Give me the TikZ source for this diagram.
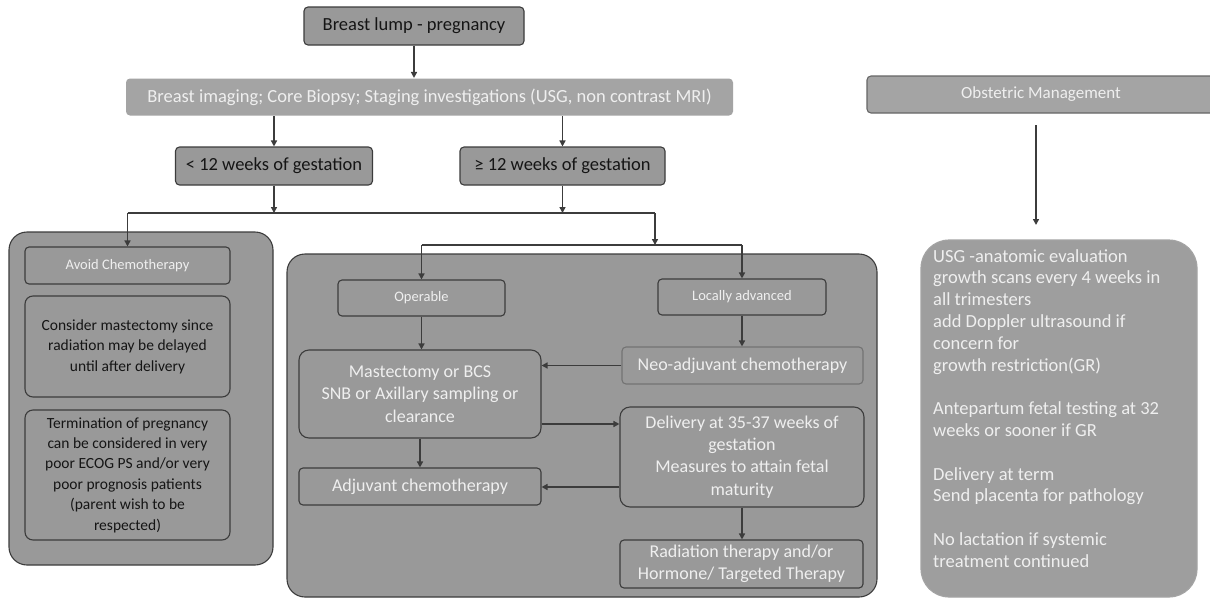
\documentclass[tikz,border=0pt]{standalone}
\usepackage{fontspec}
\setmainfont{Carlito}
\usetikzlibrary{arrows.meta}
\definecolor{boxg}{HTML}{999999}
\definecolor{lightg}{HTML}{A4A4A4}
\definecolor{lineg}{HTML}{3C3C3C}
\definecolor{txtw}{HTML}{EFEFEF}
\definecolor{txtk}{HTML}{151515}
\newcommand\fz[2]{\fontsize{#1}{#2}\selectfont}
\begin{document}
\begin{tikzpicture}[x=1pt,y=-1pt,
  arr/.style={draw=lineg, line width=1.8, -{Triangle[length=6,width=6]}},
  ln/.style={draw=lineg, line width=1.8},
  gbox/.style={draw=lineg, line width=1.1, fill=boxg, rounded corners=4, inner sep=0, align=center, text=txtk},
  wbox/.style={gbox, text=txtw},
  panel/.style={draw=lineg, line width=1.1, fill=boxg, rounded corners=18, inner sep=0},
  fbig/.style={font=\fz{18.5}{22}},
  fmid/.style={font=\fz{18}{22.3}},
  fleft/.style={font=\fz{15.5}{20.4}},
  flab/.style={font=\fz{14.5}{17}}
]
\useasboundingbox[fill=white] (0,0) rectangle (1210,600);

% top
\node[gbox, fbig, minimum width=220, minimum height=38] (lump) at (414,26) {Breast lump - pregnancy};
\node[wbox, fbig, draw=none, fill=lightg, minimum width=607, minimum height=37] (img) at (429.5,97) {Breast imaging; Core Biopsy; Staging investigations (USG, non contrast MRI)};
\node[gbox, fbig, minimum width=197, minimum height=38] (lt) at (274,166) {< 12 weeks of gestation};
\node[gbox, fbig, minimum width=205, minimum height=38] (ge) at (562.5,166) {≥ 12 weeks of gestation};

% panels
\node[panel, minimum width=264, minimum height=333] (lp) at (141,398.5) {};
\node[panel, minimum width=590, minimum height=343] (mp) at (582,425.5) {};

% left panel
\node[wbox, flab, minimum width=205, minimum height=37] (avoid) at (127.5,265.5) {Avoid Chemotherapy};
\node[gbox, fleft, minimum width=205, minimum height=101, rounded corners=8] (cons) at (127.5,346.5) {Consider mastectomy since\\radiation may be delayed\\until after delivery};
\node[gbox, fleft, minimum width=205, minimum height=130, rounded corners=8] (term) at (127.5,475) {Termination of pregnancy\\can be considered in very\\poor ECOG PS and/or very\\poor prognosis patients\\(parent wish to be\\respected)};

% middle panel
\node[wbox, flab, minimum width=167, minimum height=36] (oper) at (421.5,298) {Operable};
\node[wbox, flab, minimum width=168, minimum height=36] (loc) at (742,297) {Locally advanced};
\node[wbox, fmid, minimum width=242, minimum height=88, rounded corners=10] (mast) at (420,394) {Mastectomy or BCS\\SNB or Axillary sampling or\\clearance};
\node[wbox, fmid, draw=gray!90!black, minimum width=241, minimum height=37] (neo) at (742.5,365.5) {Neo-adjuvant chemotherapy};
\node[wbox, fmid, minimum width=244, minimum height=100, rounded corners=10] (deliv) at (742,457) {Delivery at 35-37 weeks of\\gestation\\Measures to attain fetal\\maturity};
\node[wbox, fmid, minimum width=242, minimum height=37] (adj) at (420,486.5) {Adjuvant chemotherapy};
\node[wbox, fmid, minimum width=243, minimum height=48] (rad) at (741.5,564) {Radiation therapy and/or\\Hormone/ Targeted Therapy};

% right
\begin{scope}
\clip (0,0) rectangle (1210,600);
\node[wbox, font=\fz{17}{20}, draw=gray!80!black, fill=lightg, minimum width=348, minimum height=37] (obs) at (1041,94.5) {Obstetric Management};
\end{scope}
\node[gbox, draw=lightg, fill=boxg!95!white, rounded corners=28, minimum width=276, minimum height=357] (usg) at (1059,418.5) {};
\node[anchor=north west, inner sep=0, align=left, text=txtw, font=\fz{18.5}{21.8}] (usgt) at (933,249) {USG -anatomic evaluation\\growth scans every 4 weeks in\\all trimesters\\add Doppler ultrasound if\\concern for\\growth restriction(GR)\\[21.8pt]Antepartum fetal testing at 32\\weeks or sooner if GR\\[21.8pt]Delivery at term\\Send placenta for pathology\\[21.8pt]No lactation if systemic\\treatment continued};

% connectors
\draw[arr] (lump.south) -- (lump.south |- img.north);
\draw[arr] (img.south -| lt.north) -- (lt.north);
\draw[arr] (img.south -| ge.north) -- (ge.north);
\coordinate (jL) at (127.5,213);
\coordinate (jR) at (655,213);
\coordinate (kL) at (421.5,245);
\coordinate (kR) at (742,245);
\draw[ln] (jL) -- (jR);
\draw[arr] (lt.south) -- (lt.south |- jL);
\draw[arr] (ge.south) -- (ge.south |- jL);
\draw[arr] (jL) -- (avoid.north);
\draw[arr] (jR) -- (jR |- kL);
\draw[ln] (kL) -- (kR);
\draw[arr] (kL) -- (oper.north);
\draw[arr] (kR) -- (loc.north);
\draw[arr] (oper.south) -- (oper.south |- mast.north);
\draw[arr] (loc.south) -- (loc.south |- neo.north);
\draw[arr] (neo.west) -- (neo.west -| mast.east);
\draw[arr] ([yshift=-30]mast.east) -- ([yshift=-30]mast.east -| deliv.west);
\draw[arr] (mast.south) -- (mast.south |- adj.north);
\draw[arr] ([yshift=-30]deliv.west) -- ([yshift=-30]deliv.west -| adj.east);
\draw[arr] (deliv.south) -- (deliv.south |- rad.north);
\coordinate (oa) at (1036,125);
\coordinate (ob) at (1036,225);
\draw[arr] (oa) -- (ob);
\end{tikzpicture}
\end{document}
